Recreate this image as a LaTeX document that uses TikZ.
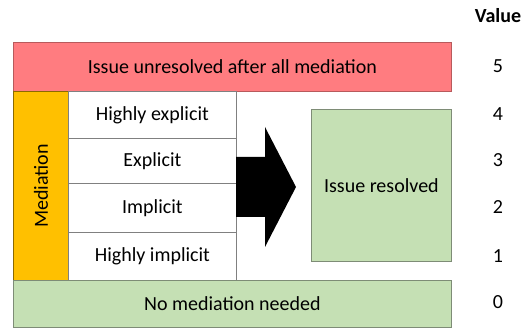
\documentclass[tikz,border=0pt]{standalone}
\usepackage{fontspec}
\setmainfont{Carlito}
\definecolor{redfill}{HTML}{FF7C80}
\definecolor{redline}{HTML}{B85A5C}
\definecolor{orangefill}{HTML}{FFC000}
\definecolor{orangeline}{HTML}{8C6A00}
\definecolor{greenfill}{HTML}{C5E0B4}
\definecolor{greenline}{HTML}{7E8C76}
\definecolor{greyline}{HTML}{808080}
\begin{document}
\begin{tikzpicture}[x=1pt,y=-1pt,
  txt/.style={font=\fontsize{20}{24}\selectfont, text=black},
  box/.style={txt, anchor=north west, inner sep=0pt, line width=0.8pt},
  redbox/.style={box, draw=redline, fill=redfill},
  orangebox/.style={box, draw=orangeline, fill=orangefill},
  greenbox/.style={box, draw=greenline, fill=greenfill},
  whitebox/.style={box, draw=greyline, fill=white},
  val/.style={txt}]
\useasboundingbox (0,0) rectangle (523,328);
\node[redbox, minimum width=438pt, minimum height=49pt] (unres) at (13,42) {Issue unresolved after all mediation};
\node[orangebox, minimum width=55pt, minimum height=189pt] (med) at (13,91) {};
\node[txt, rotate=90] (medlabel) at (med.center) {Mediation};
\node[whitebox, minimum width=168pt, minimum height=47pt] (hexp) at (68,91) {Highly explicit};
\node[whitebox, minimum width=168pt, minimum height=45pt] (exp) at (68,138) {Explicit};
\node[whitebox, minimum width=168pt, minimum height=49pt] (imp) at (68,183) {Implicit};
\node[whitebox, minimum width=168pt, minimum height=48pt] (himp) at (68,232) {Highly implicit};
\node[greenbox, minimum width=140pt, minimum height=152pt] (res) at (311,109) {Issue resolved};
\node[greenbox, minimum width=438pt, minimum height=47pt] (none) at (13,280) {No mediation needed};
\fill[black] (236,157) -- (265,157) -- (265,127) -- (296,187) -- (265,247) -- (265,217) -- (236,217) -- cycle;
\node[txt, font=\fontsize{20}{24}\selectfont\bfseries] (valhead) at (498,16) {Value};
\node[val] (v5) at (498,66) {5};
\node[val] (v4) at (498,114) {4};
\node[val] (v3) at (498,160) {3};
\node[val] (v2) at (498,207) {2};
\node[val] (v1) at (498,256) {1};
\node[val] (v0) at (498,302) {0};
\end{tikzpicture}
\end{document}
